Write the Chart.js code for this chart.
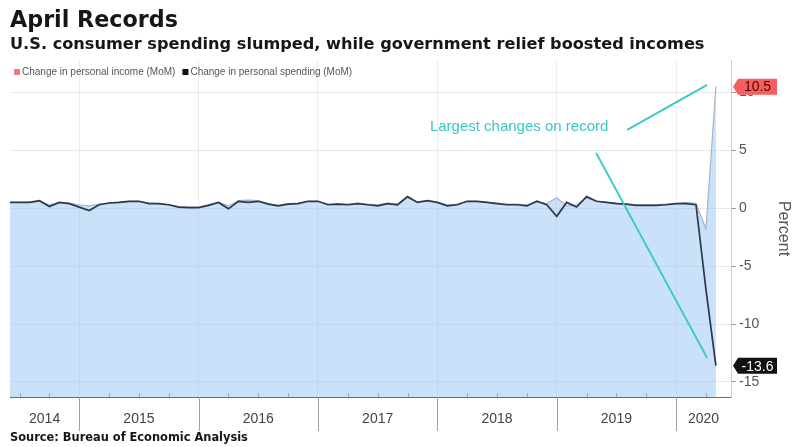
<!DOCTYPE html>
<html>
<head>
<meta charset="utf-8">
<title>April Records</title>
<script src="https://cdn.jsdelivr.net/npm/chart.js@4.4.1/dist/chart.umd.min.js"></script>
<style>
  html, body { margin:0; padding:0; background:#ffffff; }
  #wrap { position:relative; width:793px; height:447px; overflow:hidden; background:#fff; }
  #chart { position:absolute; left:0; top:0; }
  .txt { position:absolute; left:10px; white-space:nowrap; font-family:"DejaVu Sans", sans-serif; font-weight:bold; color:#161616; line-height:1; margin:0; }
</style>
</head>
<body>
<div id="wrap">
  <canvas id="chart" width="793" height="447"></canvas>
  <div id="title" class="txt">April Records</div>
  <div id="subtitle" class="txt">U.S. consumer spending slumped, while government relief boosted incomes</div>
  <div id="source" class="txt">Source: Bureau of Economic Analysis</div>
</div>
<script>
// ---------- DATA ----------
const months = [
  '2014-05','2014-06','2014-07','2014-08','2014-09','2014-10','2014-11','2014-12',
  '2015-01','2015-02','2015-03','2015-04','2015-05','2015-06','2015-07','2015-08','2015-09','2015-10','2015-11','2015-12',
  '2016-01','2016-02','2016-03','2016-04','2016-05','2016-06','2016-07','2016-08','2016-09','2016-10','2016-11','2016-12',
  '2017-01','2017-02','2017-03','2017-04','2017-05','2017-06','2017-07','2017-08','2017-09','2017-10','2017-11','2017-12',
  '2018-01','2018-02','2018-03','2018-04','2018-05','2018-06','2018-07','2018-08','2018-09','2018-10','2018-11','2018-12',
  '2019-01','2019-02','2019-03','2019-04','2019-05','2019-06','2019-07','2019-08','2019-09','2019-10','2019-11','2019-12',
  '2020-01','2020-02','2020-03','2020-04'
];
const incomeChange = [
  0.5, 0.5, 0.5, 0.6, 0.3, 0.5, 0.45, 0.3,
  0.2, 0.35, 0.45, 0.5, 0.6, 0.6, 0.45, 0.4, 0.3, 0.15, 0.1, 0.1,
  0.3, 0.5, 0.2, 0.65, 0.7, 0.65, 0.4, 0.25, 0.4, 0.45, 0.6, 0.6,
  0.35, 0.4, 0.35, 0.45, 0.35, 0.3, 0.45, 0.35, 0.9, 0.55, 0.65, 0.5,
  0.3, 0.35, 0.6, 0.6, 0.5, 0.45, 0.35, 0.35, 0.3, 0.55, 0.4, 0.9,
  0.2, 0.3, 0.9, 0.6, 0.5, 0.45, 0.35, 0.3, 0.3, 0.3, 0.35, 0.4,
  0.5, 0.4, -1.8, 10.5
];
const spendingChange = [
  0.5, 0.5, 0.5, 0.65, 0.15, 0.5, 0.4, 0.1,
  -0.2, 0.3, 0.45, 0.5, 0.6, 0.6, 0.4, 0.4, 0.3, 0.1, 0.05, 0.05,
  0.25, 0.5, -0.05, 0.6, 0.5, 0.6, 0.35, 0.2, 0.35, 0.4, 0.6, 0.6,
  0.3, 0.35, 0.3, 0.4, 0.3, 0.2, 0.4, 0.3, 1.0, 0.5, 0.65, 0.5,
  0.2, 0.3, 0.6, 0.6, 0.5, 0.4, 0.3, 0.3, 0.2, 0.6, 0.3, -0.7,
  0.5, 0.1, 1.0, 0.6, 0.5, 0.4, 0.35, 0.25, 0.25, 0.25, 0.3, 0.4,
  0.4, 0.3, -7.0, -13.6
];
const yearLabels = ['2014','2015','2016','2017','2018','2019','2020'];
const yTickValues = [-15, -10, -5, 0, 5, 10];
const seriesLabels = ['Change in personal income (MoM)', 'Change in personal spending (MoM)'];
const annotationText = 'Largest changes on record';
// annotation geometry in data units (year, percent)
const annotationTextAt = [2018.685, 7.0];
const annotationLines = [
  [[2019.590, 6.76], [2020.260, 10.65]],
  [[2019.330, 4.78], [2020.260, -12.92]]
];

// ---------- helpers ----------
function monthPos(m) { const p = m.split('-').map(Number); return p[0] + p[1] / 12; } // month-end position
const quarterTicks = [];
for (let y = 2014; y <= 2020; y++) for (let q = 0; q < 4; q++) quarterTicks.push(y + q / 4);

function fitText(id, targetWidth, baseline) {
  const el = document.getElementById(id);
  const c = document.createElement('canvas').getContext('2d');
  c.font = 'bold 100px "DejaVu Sans"';
  const w = c.measureText(el.textContent).width;
  const size = 100 * targetWidth / w;
  el.style.fontSize = size.toFixed(2) + 'px';
  el.style.top = (baseline - 0.846 * size).toFixed(2) + 'px';
}
fitText('title', 168, 26.7);
fitText('subtitle', 695, 50);
fitText('source', 238, 442);

const NARROW = '"Liberation Sans Narrow", "Liberation Sans", sans-serif';

// ---------- plugins ----------
const bottomAxis = {
  id: 'bottomAxis',
  afterDraw(chart) {
    const { ctx, chartArea: { left, right, bottom }, scales: { x } } = chart;
    ctx.save();
    ctx.lineWidth = 1;
    ctx.strokeStyle = '#a8a8a8';
    quarterTicks.forEach(v => {
      if (Number.isInteger(v)) return;
      const px = Math.round(x.getPixelForValue(v)) + 0.5;
      if (px < left || px > right) return;
      ctx.beginPath(); ctx.moveTo(px, bottom - 4); ctx.lineTo(px, bottom); ctx.stroke();
    });
    ctx.strokeStyle = '#a0a0a0';
    yearLabels.forEach(l => {
      const px = Math.round(x.getPixelForValue(+l)) + 0.5;
      if (px <= left || px >= right) return;
      ctx.beginPath(); ctx.moveTo(px, bottom); ctx.lineTo(px, bottom + 34); ctx.stroke();
    });
    ctx.font = '14px ' + NARROW;
    ctx.fillStyle = '#444';
    ctx.textAlign = 'center';
    ctx.textBaseline = 'middle';
    yearLabels.forEach(l => {
      const a = Math.max(left, x.getPixelForValue(+l));
      const b = Math.min(right, x.getPixelForValue(+l + 1));
      ctx.fillText(l, (a + b) / 2, bottom + 22);
    });
    ctx.restore();
  }
};

const annotationPlugin = {
  id: 'annot',
  afterDatasetsDraw(chart) {
    const { ctx, scales: { x, y } } = chart;
    ctx.save();
    ctx.strokeStyle = '#3cc9c9';
    ctx.lineWidth = 2;
    annotationLines.forEach(seg => {
      ctx.beginPath();
      ctx.moveTo(x.getPixelForValue(seg[0][0]), y.getPixelForValue(seg[0][1]));
      ctx.lineTo(x.getPixelForValue(seg[1][0]), y.getPixelForValue(seg[1][1]));
      ctx.stroke();
    });
    ctx.fillStyle = '#3cc6c6';
    ctx.font = '15px "Liberation Sans", sans-serif';
    ctx.textAlign = 'center';
    ctx.textBaseline = 'middle';
    ctx.fillText(annotationText, x.getPixelForValue(annotationTextAt[0]), y.getPixelForValue(annotationTextAt[1]));
    ctx.restore();
  }
};

const endLabels = {
  id: 'endLabels',
  afterDraw(chart) {
    const ctx = chart.ctx;
    const xr = chart.chartArea.right;
    ctx.save();
    chart.data.datasets.forEach((ds, i) => {
      const meta = chart.getDatasetMeta(i);
      const pt = meta.data[meta.data.length - 1];
      const v = ds.data[ds.data.length - 1].y;
      const yy = pt.y;
      const h = 16, x0 = xr + 7, w = 39;
      ctx.beginPath();
      ctx.moveTo(xr + 2, yy);
      ctx.lineTo(x0, yy - h / 2);
      ctx.lineTo(x0 + w, yy - h / 2);
      ctx.lineTo(x0 + w, yy + h / 2);
      ctx.lineTo(x0, yy + h / 2);
      ctx.closePath();
      ctx.fillStyle = ds.labelBg;
      ctx.fill();
      ctx.fillStyle = ds.labelColor;
      ctx.font = '14px "Liberation Sans", sans-serif';
      ctx.textAlign = 'center';
      ctx.textBaseline = 'middle';
      ctx.fillText(v.toFixed(1), x0 + w / 2, yy + 1);
    });
    ctx.restore();
  }
};

const legendPlugin = {
  id: 'legendRow',
  afterDraw(chart) {
    const ctx = chart.ctx;
    ctx.save();
    ctx.font = '10px ' + NARROW;
    ctx.textBaseline = 'middle';
    let x = chart.chartArea.left + 4;
    const y = chart.chartArea.top + 12;
    chart.data.datasets.forEach(ds => {
      ctx.fillStyle = ds.legendColor;
      ctx.fillRect(x, y - 3, 6, 6);
      x += 8;
      ctx.fillStyle = '#555';
      ctx.fillText(ds.label, x, y);
      x += ctx.measureText(ds.label).width + 7;
    });
    ctx.restore();
  }
};

// ---------- chart ----------
new Chart(document.getElementById('chart'), {
  type: 'line',
  data: {
    datasets: [
      {
        label: seriesLabels[0],
        data: months.map((m, i) => ({ x: monthPos(m), y: incomeChange[i] })),
        borderColor: '#a9b4c4', borderWidth: 1.2,
        backgroundColor: 'rgba(150,196,245,0.5)', fill: 'start',
        pointRadius: 0, tension: 0, order: 2,
        legendColor: '#ef7a83', labelBg: '#f45f5f', labelColor: '#5a0000'
      },
      {
        label: seriesLabels[1],
        data: months.map((m, i) => ({ x: monthPos(m), y: spendingChange[i] })),
        borderColor: '#2e3846', borderWidth: 1.7, fill: false,
        pointRadius: 0, tension: 0, order: 1,
        legendColor: '#111111', labelBg: '#111111', labelColor: '#ffffff'
      }
    ]
  },
  options: {
    responsive: false, animation: false, devicePixelRatio: 1,
    layout: { padding: { top: 60, left: 10, right: 0, bottom: 0 } },
    plugins: { legend: { display: false }, tooltip: { enabled: false } },
    scales: {
      x: {
        type: 'linear', min: 2014.42, max: 2020.46,
        afterBuildTicks(s) { s.ticks = quarterTicks.map(v => ({ value: v })); },
        afterFit(s) { s.height = 50; },
        grid: {
          color: c => (c.tick && Number.isInteger(c.tick.value)) ? '#ececec' : 'rgba(0,0,0,0)',
          drawTicks: false, lineWidth: 1
        },
        border: { color: '#6b6b6b', width: 1 },
        ticks: { display: false }
      },
      y: {
        position: 'right', min: -16.3, max: 12.8,
        afterBuildTicks(s) { s.ticks = yTickValues.map(v => ({ value: v })); },
        afterFit(s) { s.width = 62; },
        grid: { color: '#e8e8e8', tickColor: '#9a9a9a', tickLength: 5, drawTicks: true },
        border: { color: '#dcc6c6', width: 1 },
        ticks: { color: '#555', font: { family: NARROW, size: 14 }, padding: 3, callback: v => String(v) },
        title: { display: true, text: 'Percent', color: '#555', font: { family: '"Liberation Sans", sans-serif', size: 16 }, padding: { top: 0, bottom: 4 } }
      }
    }
  },
  plugins: [bottomAxis, annotationPlugin, endLabels, legendPlugin]
});
</script>
</body>
</html>
